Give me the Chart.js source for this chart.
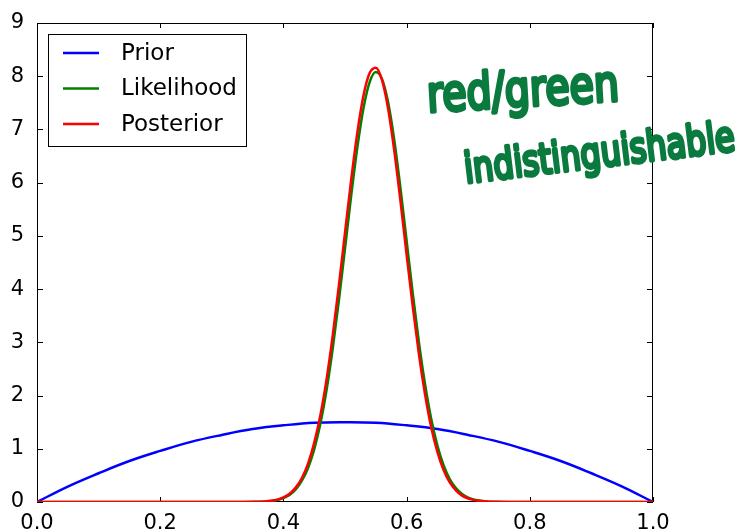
<!DOCTYPE html>
<html>
<head>
<meta charset="utf-8">
<script src="https://cdn.jsdelivr.net/npm/chart.js@4"></script>
<style>
  body { margin: 0; background: #fff; }
  #wrap { width: 751px; height: 531px; }
</style>
</head>
<body>
<div id="wrap"><canvas id="bayes" width="751" height="531"></canvas></div>
<script>
// values
const priorX = [0, 0.05, 0.1, 0.15, 0.2, 0.25, 0.3, 0.35, 0.4, 0.45, 0.5,
                0.55, 0.6, 0.65, 0.7, 0.75, 0.8, 0.85, 0.9, 0.95, 1];
const priorY = [0, 0.29, 0.54, 0.77, 0.96, 1.13, 1.26, 1.37, 1.44, 1.49, 1.5,
                1.49, 1.44, 1.37, 1.26, 1.13, 0.96, 0.77, 0.54, 0.29, 0];

const peakX = [0, 0.3, 0.36, 0.37, 0.38, 0.39, 0.4, 0.41, 0.42, 0.43, 0.44, 0.45, 0.46, 0.47, 0.48, 0.49,
               0.5, 0.51, 0.52, 0.53, 0.54, 0.55, 0.56, 0.57, 0.58, 0.59,
               0.6, 0.61, 0.62, 0.63, 0.64, 0.65, 0.66, 0.67, 0.68, 0.69,
               0.7, 0.71, 0.72, 0.73, 0.74, 0.8, 1];
const likelihoodY = [0, 0, 0.004, 0.009, 0.019, 0.038, 0.072, 0.13, 0.235, 0.40, 0.64, 0.99, 1.47, 2.10, 2.88, 3.78,
                     4.76, 5.75, 6.66, 7.40, 7.89, 8.08, 7.95, 7.51, 6.80, 5.90,
                     4.91, 3.92, 3.00, 2.21, 1.56, 1.06, 0.69, 0.43, 0.26, 0.15,
                     0.083, 0.044, 0.022, 0.011, 0.005, 0, 0];
const posteriorY = [0, 0, 0.005, 0.011, 0.023, 0.045, 0.085, 0.155, 0.27, 0.45, 0.72, 1.11, 1.63, 2.30, 3.12, 4.06,
                    5.06, 6.05, 6.94, 7.64, 8.06, 8.16, 7.93, 7.39, 6.60, 5.66,
                    4.65, 3.67, 2.78, 2.02, 1.40, 0.94, 0.60, 0.37, 0.22, 0.12,
                    0.066, 0.035, 0.017, 0.008, 0.004, 0, 0];

const xTicks = [0, 0.2, 0.4, 0.6, 0.8, 1.0];
const yTicks = [0, 1, 2, 3, 4, 5, 6, 7, 8, 9];

const font = '"DejaVu Sans", "Liberation Sans", sans-serif';

function pts(xs, ys) {
    return xs.map((x, i) => ({ x: x, y: ys[i] }));
}

// matplotlib style frame with inward ticks on all four sides
const framePlugin = {
    id: 'frame',
    beforeDatasetsDraw(chart) {
        const { ctx, chartArea: a, scales } = chart;
        ctx.save();
        ctx.strokeStyle = '#000';
        ctx.lineWidth = 1;
        ctx.strokeRect(a.left + 0.5, a.top + 0.5, a.right - a.left - 1, a.bottom - a.top - 1);
        ctx.beginPath();
        xTicks.forEach(v => {
            const px = Math.round(scales.x.getPixelForValue(v)) + 0.5;
            ctx.moveTo(px, a.bottom); ctx.lineTo(px, a.bottom - 5);
            ctx.moveTo(px, a.top); ctx.lineTo(px, a.top + 5);
        });
        yTicks.forEach(v => {
            const py = Math.round(scales.y.getPixelForValue(v)) + 0.5;
            ctx.moveTo(a.left, py); ctx.lineTo(a.left + 6, py);
            ctx.moveTo(a.right, py); ctx.lineTo(a.right - 6, py);
        });
        ctx.stroke();
        ctx.restore();
    }
};

const legendPlugin = {
    id: 'boxLegend',
    afterDraw(chart) {
        const ctx = chart.ctx;
        ctx.save();
        ctx.fillStyle = '#fff';
        ctx.fillRect(48.5, 34.5, 198, 112);
        ctx.strokeStyle = '#000';
        ctx.lineWidth = 1;
        ctx.strokeRect(48.5, 34.5, 198, 112);
        ctx.font = '23px ' + font;
        ctx.textBaseline = 'middle';
        chart.data.datasets.forEach((ds, i) => {
            const y = 53 + i * 35.5;
            ctx.strokeStyle = ds.borderColor;
            ctx.lineWidth = 2.5;
            ctx.beginPath();
            ctx.moveTo(63, y); ctx.lineTo(99, y);
            ctx.stroke();
            ctx.fillStyle = '#000';
            ctx.fillText(ds.label, 121, y + 1);
        });
        ctx.restore();
    }
};

// handwritten-looking note: thin glyphs traced with a round thick pen
function drawNote(ctx, text, x, y, width, angle, size) {
    ctx.save();
    ctx.translate(x, y);
    ctx.rotate(angle);
    ctx.font = size + 'px ' + font;
    const w = ctx.measureText(text).width;
    ctx.scale(width / w, 1);
    ctx.fillStyle = '#0a7a3e';
    ctx.strokeStyle = '#0a7a3e';
    ctx.lineWidth = 4;
    ctx.lineJoin = 'round';
    ctx.strokeText(text, 0, 0);
    ctx.fillText(text, 0, 0);
    ctx.restore();
}

const notePlugin = {
    id: 'note',
    afterDraw(chart) {
        const ctx = chart.ctx;
        drawNote(ctx, 'red/green', 428, 112, 192, -0.06, 50);
        drawNote(ctx, 'indistinguishable', 466, 183, 272, -0.12, 42);
    }
};

new Chart(document.getElementById('bayes'), {
    type: 'line',
    data: {
        datasets: [{
            label: 'Prior',
            data: pts(priorX, priorY),
            borderColor: '#0000ff',
            cubicInterpolationMode: 'default',
            tension: 0.4,
            order: 3
        }, {
            label: 'Likelihood',
            data: pts(peakX, likelihoodY),
            borderColor: '#008000',
            order: 2
        }, {
            label: 'Posterior',
            data: pts(peakX, posteriorY),
            borderColor: '#ff0000',
            order: 1
        }]
    },
    options: {
        responsive: false,
        animation: false,
        layout: { padding: { left: 0, right: 98, top: 23, bottom: 0 } },
        elements: {
            point: { radius: 0 },
            line: { borderWidth: 2.5, cubicInterpolationMode: 'monotone', fill: false }
        },
        plugins: {
            legend: { display: false },
            tooltip: { enabled: false }
        },
        scales: {
            x: {
                type: 'linear',
                min: 0,
                max: 1,
                afterFit: s => { s.height = 29; },
                afterBuildTicks: s => { s.ticks = xTicks.map(v => ({ value: v })); },
                grid: { display: false },
                border: { display: false },
                ticks: {
                    padding: 1,
                    color: '#000',
                    font: { family: font, size: 21 },
                    maxRotation: 0,
                    callback: v => v.toFixed(1)
                }
            },
            y: {
                min: 0,
                max: 9,
                afterFit: s => { s.width = 37; },
                afterBuildTicks: s => { s.ticks = yTicks.map(v => ({ value: v })); },
                grid: { display: false },
                border: { display: false },
                ticks: {
                    padding: 5,
                    color: '#000',
                    font: { family: font, size: 21 },
                    callback: v => String(v)
                }
            }
        }
    },
    plugins: [framePlugin, legendPlugin, notePlugin]
});
</script>
</body>
</html>
